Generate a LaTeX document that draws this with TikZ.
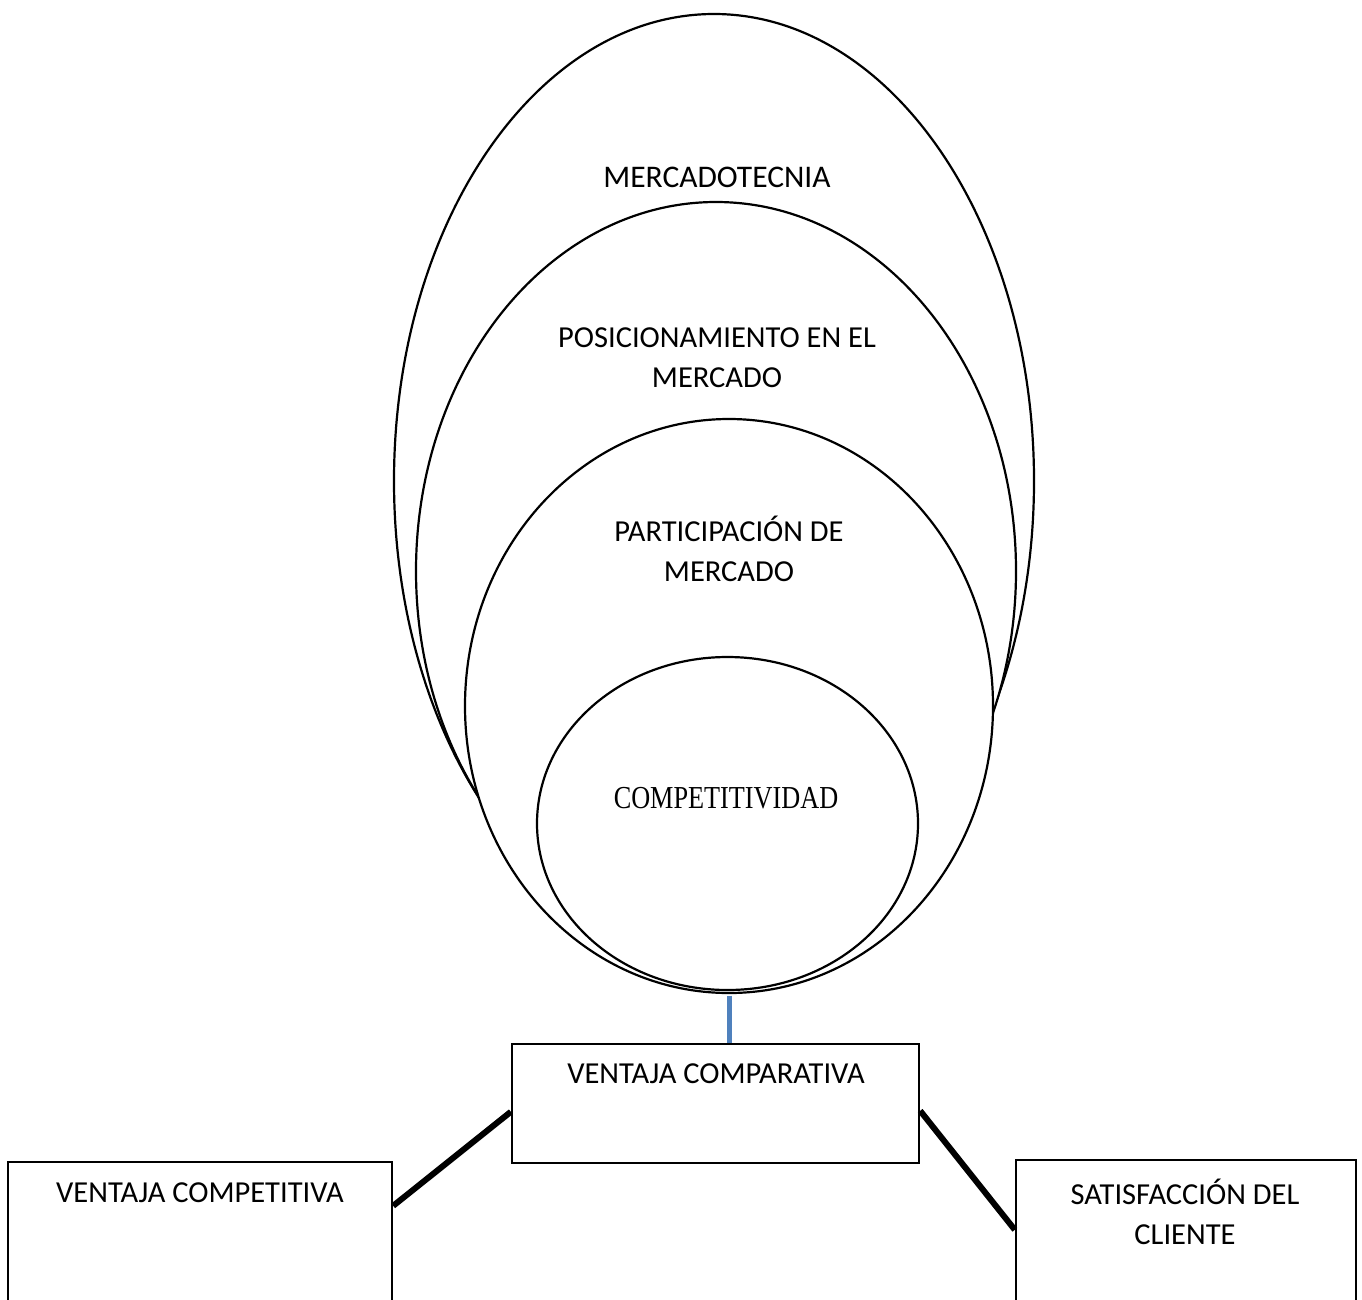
\documentclass[tikz,border=0pt]{standalone}
\usepackage{fontspec}
\setmainfont{Carlito}
\newfontfamily\serifc[FakeStretch=0.82]{Liberation Serif}
\usetikzlibrary{shapes.geometric,calc}
\definecolor{lineblue}{RGB}{79,129,189}
\begin{document}
\begin{tikzpicture}[x=1pt,y=-1pt,
  ell/.style={ellipse,draw,fill=white,line width=2.2pt,inner sep=0pt},
  lbl/.style={font=\fontsize{30.5}{40}\selectfont,inner sep=0pt,align=center},
  serlbl/.style={font=\serifc\fontsize{32}{38}\selectfont,inner sep=0pt},
  box/.style={rectangle,draw,fill=white,line width=2.4pt,inner sep=0pt},
  thickline/.style={line width=6pt},
  blueline/.style={line width=5pt,draw=lineblue}]
\useasboundingbox (0,0) rectangle (1362,1299);
\fill[white] (0,0) rectangle (1362,1299);
\clip (0,0) rectangle (1362,1299);
% nested ellipses
\node[ell,minimum width=640pt,minimum height=934pt] (mkt) at (714,481) {};
\node[ell,minimum width=600pt,minimum height=738pt] (pos) at (716,571) {};
\node[ell,minimum width=528pt,minimum height=574pt] (part) at (729,706) {};
\node[ell,minimum width=381pt,minimum height=333pt] (comp) at (727.5,823.5) {};
\node[lbl,font=\fontsize{31.5}{40}\selectfont] (tmkt) at (717,177) {MERCADOTECNIA};
\node[lbl] (tpos) at (717,358) {POSICIONAMIENTO EN EL\\MERCADO};
\node[lbl] (tpart) at (729,549) {PARTICIPACIÓN DE\\MERCADO};
\node[serlbl] (tcomp) at (726,798) {COMPETITIVIDAD};
% boxes
\node[box,minimum width=407pt,minimum height=119pt] (vcomp) at (715.5,1103.5) {};
\node[box,minimum width=384pt,minimum height=170pt] (vcompet) at (200,1247) {};
\node[box,minimum width=340pt,minimum height=172pt] (satis) at (1186,1246) {};
\node[lbl] (tvcomp) at (716,1074) {VENTAJA COMPARATIVA};
\node[lbl] (tvcompet) at (200,1193) {VENTAJA COMPETITIVA};
\node[lbl] (tsatis) at (1185,1212) {SATISFACCIÓN DEL\\CLIENTE};
% connectors
\draw[blueline,shorten <=1.5pt] (part.south) -- (part.south |- vcomp.north);
\draw[thickline] ($(vcomp.north west)+(0,69)$) -- ($(vcompet.north east)+(0,45)$);
\draw[thickline] ($(vcomp.north east)+(0,68)$) -- ($(satis.north west)+(0,71)$);
\end{tikzpicture}
\end{document}
